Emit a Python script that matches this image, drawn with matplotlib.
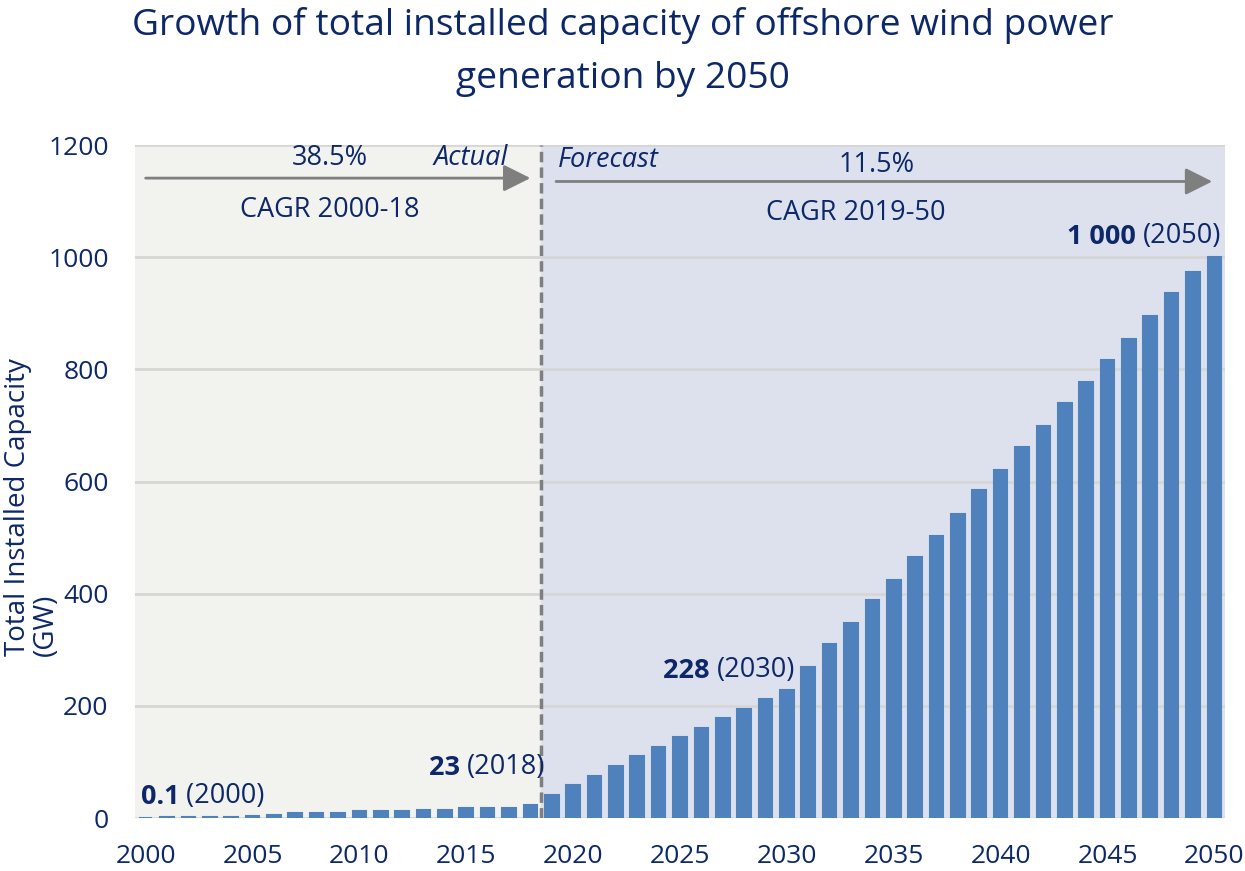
import numpy as np
import matplotlib.pyplot as plt

plt.rcParams['font.family'] = ['Open Sans', 'DejaVu Sans']

years = np.arange(2000, 2051)
capacity = [0.1, 2, 2, 2, 2, 4, 6, 9, 9, 9, 12, 12, 12, 15, 15, 18, 18, 18, 23,
            41, 59, 75, 92, 110, 126, 144, 160, 178, 195, 212, 228,
            269, 310, 348, 389, 424, 465, 503, 542, 585, 620, 661, 699, 740,
            777, 816, 854, 895, 936, 973, 1000]

navy = '#0D2868'
blue = '#4F81BD'
fs = 19.5

fig = plt.figure(figsize=(12.45, 8.71), dpi=100)
ax = fig.add_axes([0.1084, 0.0608, 0.8756, 0.7727])

split = 2018.5
ax.axvspan(1999.5, split, color='#F2F3EE', zorder=0)
ax.axvspan(split, 2050.5, color='#DCE1ED', zorder=0)
for g in range(200, 1201, 200):
    ax.axhline(g, color='#D6D6D6', lw=2, zorder=1)
ax.axhline(0, color='#D6D6D6', lw=2, zorder=1)

ax.bar(years, capacity, width=0.64, color=blue, edgecolor=blue, lw=1.5, zorder=2)
ax.axvline(split, color='#7F7F7F', lw=2.5, ls=(0, (3, 1.5)), zorder=3)

ax.set_xlim(1999.5, 2050.5)
ax.set_ylim(0, 1200)
ax.set_xticks(np.arange(2000, 2051, 5))
ax.set_yticks(np.arange(0, 1201, 200))
ax.tick_params(length=0, labelsize=19, labelcolor=navy, pad=19)
for s in ax.spines.values():
    s.set_visible(False)

ax.set_ylabel('Total Installed Capacity\n(GW)', fontsize=20, color=navy,
              multialignment='left', linespacing=1.0)
ax.yaxis.set_label_coords(-0.069, 0.462)

fig.suptitle('Growth of total installed capacity of offshore wind power\ngeneration by 2050',
             fontsize=26.7, color=navy, y=0.992, linespacing=1.62)

# CAGR arrows and labels
arrow = dict(arrowstyle='-|>,head_length=1.1,head_width=0.55', color='#7F7F7F',
             lw=2, mutation_scale=15, shrinkA=0, shrinkB=0)
ax.annotate('', xy=(2018.0, 1141), xytext=(2000, 1141), arrowprops=arrow)
ax.annotate('', xy=(2049.9, 1135), xytext=(2019.2, 1135), arrowprops=arrow)
ax.text(2008.6, 1176, '38.5%', ha='center', va='center', fontsize=fs, color=navy)
ax.text(2016.95, 1176, 'Actual', ha='right', va='center', fontsize=fs, color=navy, style='italic')
ax.text(2008.6, 1084, 'CAGR 2000-18', ha='center', va='center', fontsize=fs, color=navy)
ax.text(2019.3, 1173, 'Forecast', ha='left', va='center', fontsize=fs, color=navy, style='italic')
ax.text(2034.2, 1164, '11.5%', ha='center', va='center', fontsize=fs, color=navy)
ax.text(2033.2, 1078, 'CAGR 2019-50', ha='center', va='center', fontsize=fs, color=navy)


def label(x, y, bold, normal, ha='left'):
    if ha == 'left':
        t = ax.text(x, y, bold, ha='left', va='center', fontsize=fs, color=navy, weight='bold')
        ax.annotate(' ' + normal, xy=(1, 0), xycoords=t, ha='left', va='bottom',
                    fontsize=fs, color=navy)
    else:
        t = ax.text(x, y, normal, ha='right', va='center', fontsize=fs, color=navy)
        ax.annotate(bold + ' ', xy=(0, 0), xycoords=t, ha='right', va='bottom',
                    fontsize=fs, color=navy, weight='bold')


label(1999.77, 37, '0.1', '(2000)')
label(2018.7, 91, '23', '(2018)', ha='right')
label(2030.4, 264, '228', '(2030)', ha='right')
label(2050.3, 1037, '1 000', '(2050)', ha='right')

fig.savefig('out.png', dpi=100)
